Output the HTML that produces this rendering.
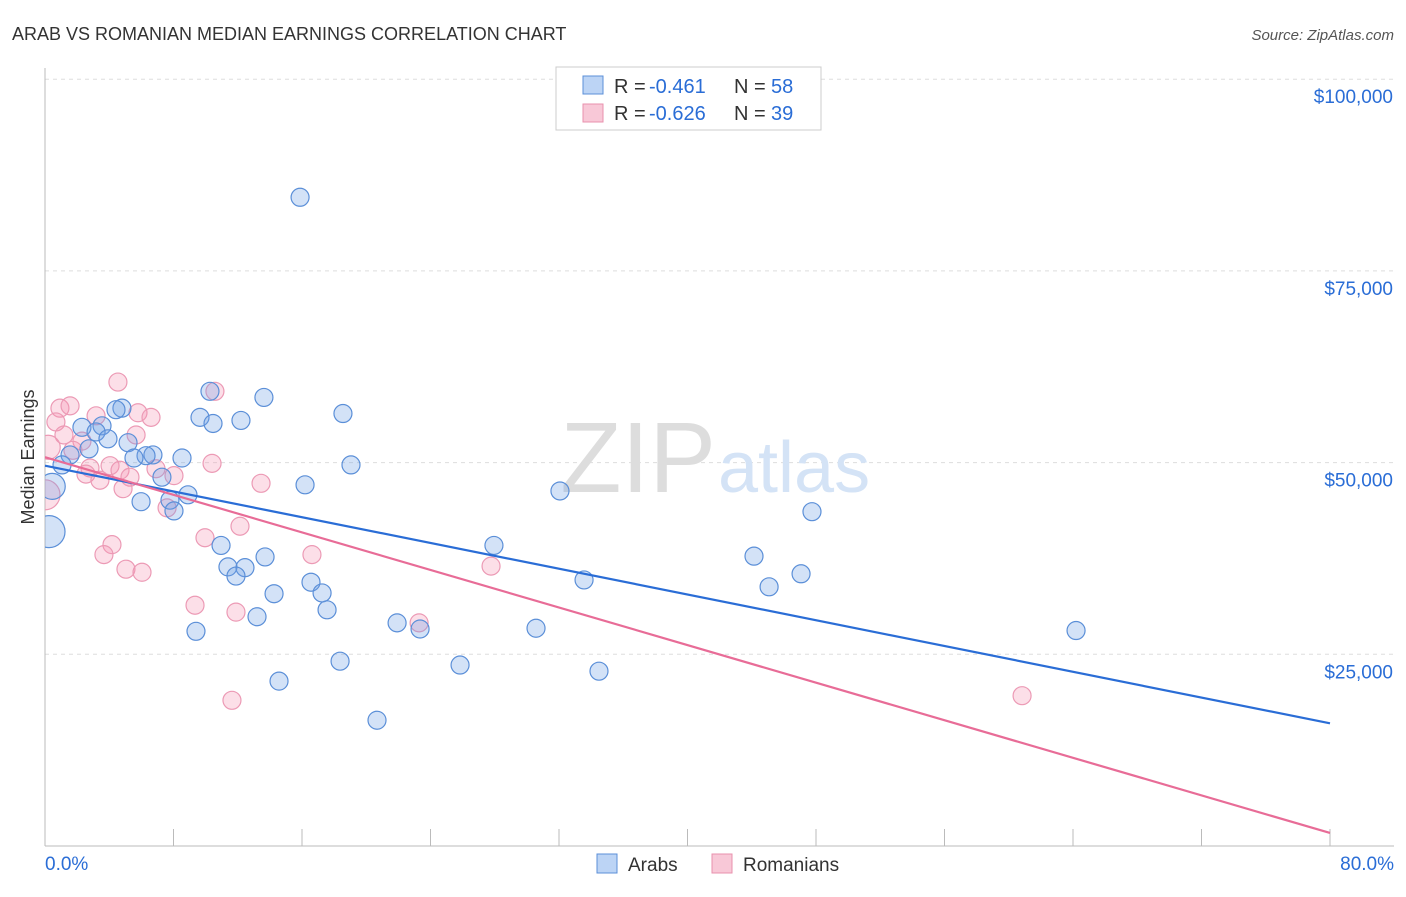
<!DOCTYPE html>
<html><head><meta charset="utf-8"><style>
body{margin:0;background:#fff;font-family:"Liberation Sans",sans-serif}
svg text{font-family:"Liberation Sans",sans-serif}
</style></head><body>
<svg id="c" width="1406" height="892" xmlns="http://www.w3.org/2000/svg">
<defs><clipPath id="clip"><rect x="45" y="60" width="1360" height="786"/></clipPath></defs>
<text x="12" y="40" font-size="18" fill="#333">ARAB VS ROMANIAN MEDIAN EARNINGS CORRELATION CHART</text>
<text x="1394" y="40" font-size="15" fill="#555" font-style="italic" text-anchor="end">Source: ZipAtlas.com</text>
<text x="34" y="457" font-size="18" fill="#333" text-anchor="middle" transform="rotate(-90 34 457)">Median Earnings</text>
<g id="grid"></g>
<text x="716" y="492" font-size="100" fill="#ddd" text-anchor="end" font-family="Liberation Serif">ZIP</text>
<text x="718" y="492" font-size="72" fill="#d4e3f6">atlas</text>
<g id="pts" clip-path="url(#clip)"></g>
<g id="lines"></g>
<g>
<rect x="556" y="67" width="265" height="63" fill="#fff" stroke="#ccc"/>
<rect x="583" y="76" width="20" height="18" fill="#bcd4f5" stroke="#5b8fd8"/>
<text x="614" y="93" font-size="20" fill="#333">R =</text>
<text x="649" y="93" font-size="20" fill="#2a6dd6">-0.461</text>
<text x="734" y="93" font-size="20" fill="#333">N =</text>
<text x="771" y="93" font-size="20" fill="#2a6dd6">58</text>
<rect x="583" y="104" width="20" height="18" fill="#f8c8d7" stroke="#e891ad"/>
<text x="614" y="120" font-size="20" fill="#333">R =</text>
<text x="649" y="120" font-size="20" fill="#2a6dd6">-0.626</text>
<text x="734" y="120" font-size="20" fill="#333">N =</text>
<text x="771" y="120" font-size="20" fill="#2a6dd6">39</text>
</g>
<g>
<rect x="597" y="854" width="20" height="19" fill="#bcd4f5" stroke="#5b8fd8"/>
<text x="628" y="871" font-size="19" fill="#333">Arabs</text>
<rect x="712" y="854" width="20" height="19" fill="#f8c8d7" stroke="#e891ad"/>
<text x="743" y="871" font-size="19" fill="#333">Romanians</text>
</g>
</svg>
<script>
const yTicks=[25000,50000,75000,100000];
const yTickLabels=["$25,000","$50,000","$75,000","$100,000"];
const xTickLabels=["0.0%","80.0%"];
const arabX=[15.88,10.27,13.63,4.79,4.42,9.65,12.20,10.46,18.55,2.30,3.55,3.18,3.92,5.17,2.74,1.56,6.72,6.29,5.54,8.53,1.06,19.05,16.19,32.06,7.28,8.90,7.78,5.98,8.03,47.75,10.96,27.95,44.14,13.70,11.39,12.45,11.89,47.07,33.56,16.56,45.08,14.26,17.25,17.56,13.20,21.92,23.35,30.57,9.40,64.19,18.37,25.84,34.49,14.57,20.67,0.25,0.45];
const arabY=[84.6,59.3,58.5,57.1,56.9,55.9,55.5,55.1,56.4,54.6,54.8,54.0,53.1,52.6,51.8,51.0,51.0,50.9,50.6,50.6,49.7,49.7,47.1,46.3,48.1,45.8,45.1,44.9,43.7,43.6,39.2,39.2,37.8,37.7,36.4,36.3,35.2,35.5,34.7,34.4,33.8,32.9,33.0,30.8,29.9,29.1,28.3,28.4,28.0,28.1,24.1,23.6,22.8,21.5,16.4,41.0,46.9];
const arabR=[9,9,9,9,9,9,9,9,9,9,9,9,9,9,9,9,9,9,9,9,9,9,9,9,9,9,9,9,9,9,9,9,9,9,9,9,9,9,9,9,9,9,9,9,9,9,9,9,9,9,9,9,9,9,9,16,13];
const romX=[4.54,10.58,0.93,1.56,3.18,5.79,6.60,0.68,1.18,5.67,2.30,1.74,4.05,2.80,10.40,6.91,4.67,8.03,2.55,3.42,5.29,13.45,4.86,7.60,0.2,0.0,12.14,9.96,4.17,3.67,16.62,5.04,6.04,27.77,9.34,11.89,23.29,11.64,60.83];
const romY=[60.5,59.3,57.1,57.4,56.1,56.5,55.9,55.3,53.6,53.6,52.8,51.6,49.6,49.3,49.9,49.2,49.0,48.3,48.5,47.7,48.1,47.3,46.6,44.1,52.0,45.8,41.7,40.2,39.3,38.0,38.0,36.1,35.7,36.5,31.4,30.5,29.1,19.0,19.6];
const romR=[9,9,9,9,9,9,9,9,9,9,9,9,9,9,9,9,9,9,9,9,9,9,9,9,12,15,9,9,9,9,9,9,9,9,9,9,9,9,9];
const arabTrend=[49.6,16.0];
const romTrend=[50.7,1.7];
const X=p=>45+p*1285/80, Y=k=>846-k*7.668;
const NS="http://www.w3.org/2000/svg";
function mk(t,a,p){const e=document.createElementNS(NS,t);for(const k in a)e.setAttribute(k,a[k]);p.appendChild(e);return e;}
const g=document.getElementById('grid');
yTicks.forEach((v,i)=>{const y=Y(v/1000);
 const l=mk('line',{x1:45,x2:1394,y1:y,y2:y,stroke:'#ddd','stroke-dasharray':'4,4'},g);
 
 
 const t=mk('text',{x:1393,y:y+24,'font-size':19,fill:'#2a6dd6','text-anchor':'end'},g);t.textContent=yTickLabels[i];
 
 
});
mk('line',{x1:45,x2:45,y1:68,y2:846,stroke:'#bbb'},g);
mk('line',{x1:45,x2:1394,y1:846,y2:846,stroke:'#bbb'},g);
for(let i=0;i<=10;i++){const x=X(i*8);mk('line',{x1:x,x2:x,y1:829,y2:846,stroke:'#bbb'},g);}
[[0,'start',45],[80,'end',1394]].forEach((d,i)=>{const t=mk('text',{x:d[2],y:870,'font-size':19,fill:'#2a6dd6','text-anchor':d[1]},g);t.textContent=xTickLabels[i];
 
 });
const pg=document.getElementById('pts');
romX.forEach((x,i)=>{const c=mk('circle',{cx:X(x),cy:Y(romY[i]),r:romR[i],fill:'rgba(244,150,180,0.3)',stroke:'#ec9ab5','stroke-width':1.2},pg);
 
 });
arabX.forEach((x,i)=>{const c=mk('circle',{cx:X(x),cy:Y(arabY[i]),r:arabR[i],fill:'rgba(110,160,230,0.3)',stroke:'#5b8fd8','stroke-width':1.2},pg);
 
 });
const lg=document.getElementById('lines');
const l1=mk('line',{x1:X(0),y1:Y(arabTrend[0]),x2:X(80),y2:Y(arabTrend[1]),stroke:'#2a6dd6','stroke-width':2.2},lg);


const l2=mk('line',{x1:X(0),y1:Y(romTrend[0]),x2:X(80),y2:Y(romTrend[1]),stroke:'#e86c97','stroke-width':2.2},lg);


</script>
</body></html>
